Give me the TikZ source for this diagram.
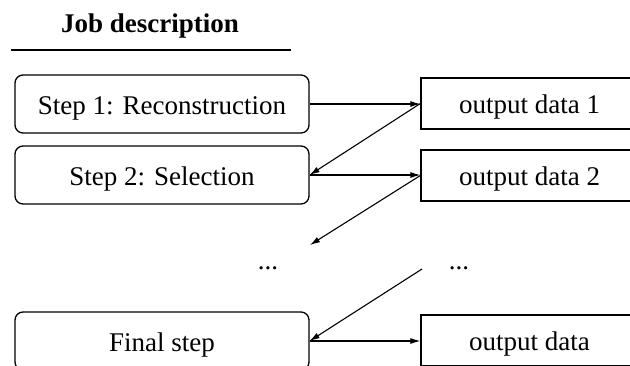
\documentclass[tikz,border=0pt]{standalone}
\usepackage{fontspec}
\setmainfont{Liberation Serif}
\usetikzlibrary{arrows.meta}
\begin{document}
\begin{tikzpicture}[x=1pt,y=-1pt,
  every node/.style={font=\fontsize{27}{32}\selectfont, inner sep=0pt},
  stepbox/.style={draw, line width=1.3pt, rounded corners=8pt,
    minimum width=294pt, minimum height=58pt, text height=24pt, text depth=4pt},
  databox/.style={draw, line width=1.3pt,
    minimum width=217pt, minimum height=51pt, text height=24pt, text depth=4pt},
  flow/.style={line width=1.1pt, -{Latex[length=10pt,width=6pt]}},
  dots/.style={anchor=base, font=\fontsize{27}{32}\selectfont}
]
\useasboundingbox (0,0) rectangle (630,365);
\clip (0,0) rectangle (630,365);

% heading with rule underneath
\node[anchor=base, font=\fontsize{27}{32}\selectfont\bfseries] (title) at (150,32) {Job description};
\draw[line width=1.1pt] (11,50) coordinate (ruleL) -- (291,50) coordinate (ruleR);

% processing steps
\node[stepbox] (s1) at (162,104) {Step 1: Reconstruction};
\node[stepbox] (s2) at (162,175) {Step 2: Selection};
\node[stepbox] (sf) at (162,341) {Final step};

% produced data
\node[databox] (d1) at (529.5,103.5) {output data 1};
\node[databox] (d2) at (529.5,175.5) {output data 2};
\node[databox] (df) at (529.5,340.5) {output data};

% continuation marks
\node[dots] (dl) at (268,269) {...};
\node[dots] (dr) at (459,269) {...};
\coordinate (gapIn) at (310,245);
\coordinate (gapOut) at (422,269);

% data flow
\draw[flow] (s1.east) -- (d1.west |- s1.east);
\draw[flow] (d1.west) -- (s2.east);
\draw[flow] (s2.east) -- (d2.west |- s2.east);
\draw[flow] (d2.west) -- (gapIn);
\draw[flow] (gapOut) -- (sf.east);
\draw[flow] (sf.east) -- (df.west |- sf.east);
\end{tikzpicture}
\end{document}
